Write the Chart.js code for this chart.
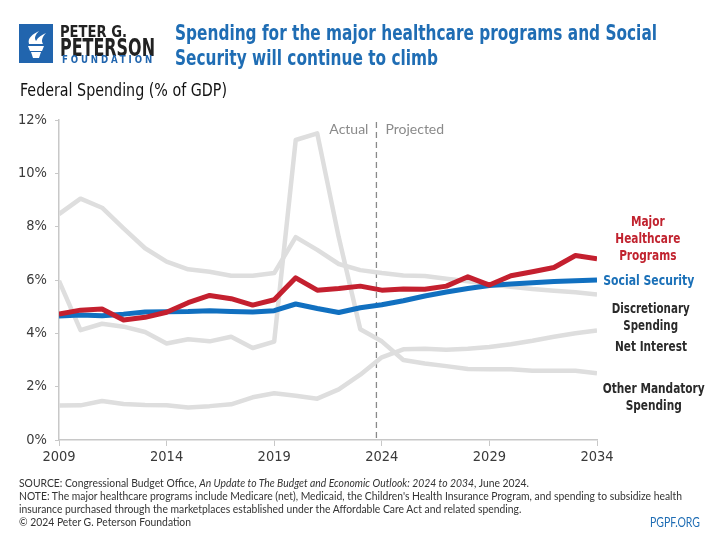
<!DOCTYPE html>
<html>
<head>
<meta charset="utf-8">
<script src="https://cdn.jsdelivr.net/npm/chart.js"></script>
<style>
  body { margin: 0; background: #fff; }
  #page { position: relative; width: 720px; height: 540px; overflow: hidden; font-family: "DejaVu Sans Condensed", "Liberation Sans", sans-serif; }
  #page canvas { position: absolute; left: 0; top: 0; }
  .abs { position: absolute; white-space: nowrap; transform-origin: left center; }
  .logo-box { left: 19px; top: 24px; width: 34px; height: 39px; background: #2165ae; }
  .lbl { font-weight: bold; font-size: 14px; line-height: 17px; text-align: center; transform-origin: center center; }
  .foot { font-family: Lato, "DejaVu Sans", sans-serif; }
</style>
</head>
<body>
<div id="page">
  <canvas id="myChart" width="720" height="540"></canvas>

  <!-- logo -->
  <div class="abs logo-box">
    <svg width="34" height="39" viewBox="0 0 34 39">
      <path d="M9 22 L25 22 L23 27 L11 27 Z" fill="#fff"/>
      <path d="M12 28 L22 28 L20 34 L14 34 Z" fill="#fff"/>
      <path d="M10 20 C8 14 14 10 20 7 C16 11 15 14 17 17 C19 13 23 11 27 9 C23 13 22 17 24 20 Z" fill="#fff"/>
    </svg>
  </div>
  <div class="abs fit" data-w="67" style="left:60px; top:22px; font-size:16px; font-weight:bold; color:#222;">PETER G.</div>
  <div class="abs fit" data-w="95" style="left:60px; top:34px; font-size:24px; font-weight:bold; color:#222;">PETERSON</div>
  <div class="abs fit" data-w="93" style="left:62px; top:54px; font-size:10px; font-weight:bold; letter-spacing:3px; color:#2165ae;">FOUNDATION</div>

  <div class="abs fit" data-w="482" style="left:175px; top:21px; font-size:21px; line-height:25px; font-weight:bold; color:#1f6db4;">Spending for the major healthcare programs and Social<br>Security will continue to climb</div>
  <div class="abs fit" data-w="207" style="left:20px; top:80px; font-size:17px; color:#111;">Federal Spending (% of GDP)</div>

  <!-- etiquetas de las series -->
  <div class="abs lbl fit" data-w="65" data-cx="647.5" style="top:213px; color:#c1232f;">Major<br>Healthcare<br>Programs</div>
  <div class="abs lbl fit" data-w="91" data-cx="648.5" style="top:272px; color:#1a70b8;">Social Security</div>
  <div class="abs lbl fit" data-w="78" data-cx="651" style="top:300px; color:#2a2a2a;">Discretionary<br>Spending</div>
  <div class="abs lbl fit" data-w="72" data-cx="651" style="top:338px; color:#2a2a2a;">Net Interest</div>
  <div class="abs lbl fit" data-w="102" data-cx="654" style="top:380px; color:#2a2a2a;">Other Mandatory<br>Spending</div>

  <!-- pie -->
  <div class="abs foot fit" data-w="663" style="left:19px; top:476px; font-size:12px; line-height:13px; color:#333;">SOURCE: Congressional Budget Office, <i>An Update to The Budget and Economic Outlook: 2024 to 2034</i>, June 2024.<br>NOTE: The major healthcare programs include Medicare (net), Medicaid, the Children's Health Insurance Program, and spending to subsidize health<br>insurance purchased through the marketplaces established under the Affordable Care Act and related spending.<br>© 2024 Peter G. Peterson Foundation</div>
  <div class="abs foot fit" data-w="50" style="left:650px; top:515px; font-size:12.5px; color:#1f6db4;">PGPF.ORG</div>
</div>

<script>
// Ajustar el ancho de los textos al de la referencia
document.querySelectorAll('.fit').forEach(el => {
    const w = el.getBoundingClientRect().width;
    const target = +el.dataset.w;
    if (el.dataset.cx) el.style.left = (+el.dataset.cx - w / 2) + 'px';
    el.style.transform = 'scaleX(' + (target / w) + ')';
});

// Años (eje x)
const years = [2009, 2010, 2011, 2012, 2013, 2014, 2015, 2016, 2017, 2018, 2019, 2020, 2021,
               2022, 2023, 2024, 2025, 2026, 2027, 2028, 2029, 2030, 2031, 2032, 2033, 2034];

// Gasto federal, % del PIB
const healthcare = [4.72, 4.87, 4.91, 4.50, 4.60, 4.79, 5.15, 5.42, 5.30, 5.06, 5.26, 6.08, 5.62,
                    5.68, 5.77, 5.62, 5.66, 5.65, 5.77, 6.12, 5.81, 6.16, 6.31, 6.47, 6.92, 6.80];
const socialSecurity = [4.65, 4.69, 4.66, 4.72, 4.80, 4.81, 4.82, 4.85, 4.82, 4.80, 4.85, 5.10, 4.93,
                        4.78, 4.96, 5.07, 5.22, 5.40, 5.55, 5.68, 5.79, 5.85, 5.90, 5.94, 5.97, 6.00];
const discretionary = [8.47, 9.05, 8.71, 7.94, 7.19, 6.69, 6.40, 6.31, 6.16, 6.16, 6.26, 7.61, 7.13,
                       6.60, 6.37, 6.26, 6.17, 6.15, 6.05, 5.95, 5.84, 5.75, 5.66, 5.60, 5.54, 5.46];
const netInterest = [1.29, 1.30, 1.46, 1.35, 1.31, 1.30, 1.22, 1.27, 1.34, 1.60, 1.75, 1.66, 1.55,
                     1.90, 2.45, 3.10, 3.40, 3.42, 3.38, 3.42, 3.49, 3.59, 3.72, 3.87, 4.00, 4.11];
const otherMandatory = [5.97, 4.12, 4.36, 4.25, 4.05, 3.62, 3.78, 3.70, 3.87, 3.45, 3.69, 11.25, 11.50,
                        7.60, 4.15, 3.70, 3.00, 2.87, 2.77, 2.66, 2.65, 2.65, 2.60, 2.60, 2.60, 2.50];

// Ticks de los ejes
const yTicks = [0, 2, 4, 6, 8, 10, 12];
const xTicks = [2009, 2014, 2019, 2024, 2029, 2034];
const dividerYear = 2023.75; // línea Actual | Projected

const tickFont = { family: '"DejaVu Sans Condensed", sans-serif', size: 14.5 };
const grey = '#dedede';

// Línea punteada y textos "Actual" / "Projected"
const dividerPlugin = {
    id: 'divider',
    beforeDatasetsDraw(chart) {
        const { ctx, chartArea, scales } = chart;
        const x = scales.x.getPixelForValue(dividerYear);
        ctx.save();
        ctx.strokeStyle = '#8a8a8a';
        ctx.lineWidth = 1.3;
        ctx.setLineDash([6, 4]);
        ctx.beginPath();
        ctx.moveTo(x, chartArea.top + 2);
        ctx.lineTo(x, chartArea.bottom);
        ctx.stroke();
        ctx.setLineDash([]);
        ctx.fillStyle = '#8a8a8a';
        ctx.font = '14px Lato, "DejaVu Sans", sans-serif';
        ctx.textBaseline = 'middle';
        ctx.textAlign = 'right';
        ctx.fillText('Actual', x - 8, chartArea.top + 9);
        ctx.textAlign = 'left';
        ctx.fillText('Projected', x + 9, chartArea.top + 9);
        ctx.restore();
    }
};

function serie(label, data, color, width) {
    return {
        label: label,
        data: data,
        borderColor: color,
        backgroundColor: color,
        borderWidth: width,
        pointRadius: 0,
        tension: 0,
        borderJoinStyle: 'round',
        borderCapStyle: 'butt'
    };
}

const ctx = document.getElementById('myChart').getContext('2d');
const myChart = new Chart(ctx, {
    type: 'line',
    data: {
        labels: years,
        datasets: [
            serie('Major Healthcare Programs', healthcare, '#c4202f', 5),
            serie('Social Security', socialSecurity, '#1170c0', 5),
            serie('Discretionary Spending', discretionary, grey, 4.5),
            serie('Net Interest', netInterest, grey, 4.5),
            serie('Other Mandatory Spending', otherMandatory, grey, 4.5)
        ]
    },
    options: {
        responsive: false,
        animation: false,
        layout: { padding: { left: 0, top: 120, right: 123, bottom: 70 } },
        plugins: {
            legend: { display: false },
            tooltip: { enabled: false }
        },
        scales: {
            x: {
                type: 'linear',
                min: 2009,
                max: 2034,
                afterBuildTicks: scale => { scale.ticks = xTicks.map(v => ({ value: v })); },
                afterFit: scale => { scale.height = 30; },
                grid: { drawOnChartArea: false, drawTicks: true, tickLength: 6, color: '#c8c8c8' },
                border: { color: '#c8c8c8', width: 1.5 },
                ticks: { color: '#3a3a3a', font: tickFont, padding: 3, maxRotation: 0,
                         callback: v => String(v) }
            },
            y: {
                min: 0,
                max: 12,
                afterBuildTicks: scale => { scale.ticks = yTicks.map(v => ({ value: v })); },
                afterFit: scale => { scale.width = 59; },
                grid: { drawOnChartArea: false, drawTicks: true, tickLength: 4, color: '#c8c8c8' },
                border: { color: '#c8c8c8', width: 1.5 },
                ticks: { color: '#3a3a3a', font: tickFont, padding: 8, callback: v => v + '%' }
            }
        }
    },
    plugins: [dividerPlugin]
});
</script>
</body>
</html>
